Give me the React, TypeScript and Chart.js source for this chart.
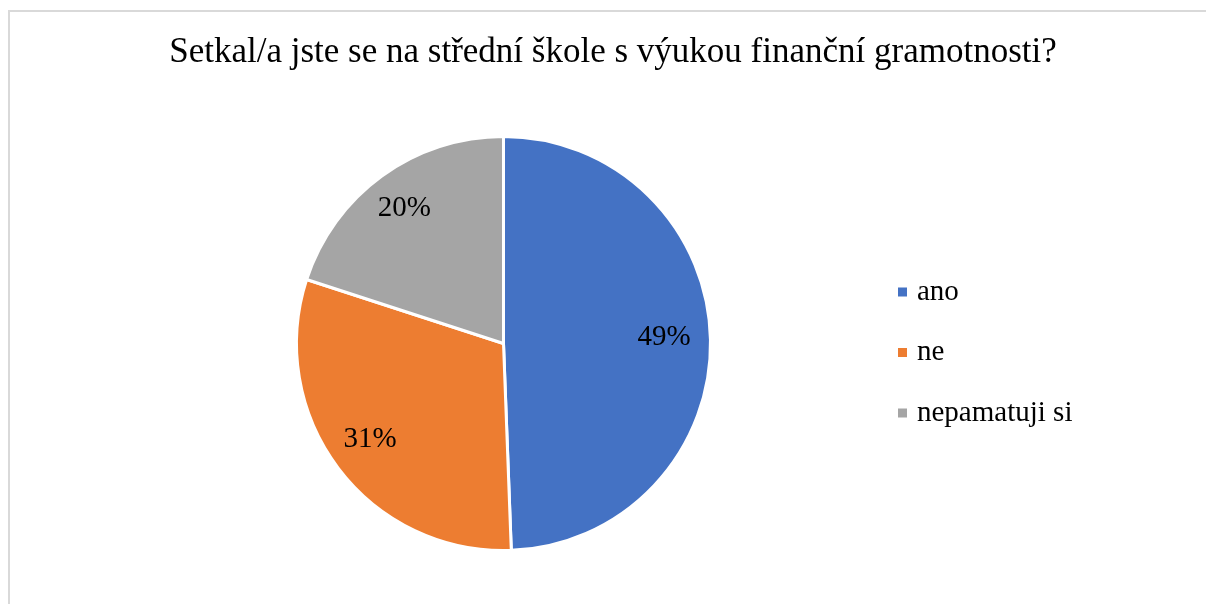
import React, { useEffect, useRef } from "react";
import { Chart, registerables } from "chart.js";

Chart.register(...registerables);

const title = "Setkal/a jste se na střední škole s výukou finanční gramotnosti?";
const categories = ["ano", "ne", "nepamatuji si"];
const shares = [49.4, 30.6, 20.0];
const colors = ["#4472C4", "#ED7D31", "#A5A5A5"];

const FONT = '"Liberation Serif", "Times New Roman", serif';

const overlayPlugin = {
  id: "overlay",
  afterDraw(chart: any) {
    const ctx = chart.ctx;
    ctx.save();
    ctx.fillStyle = "#000";
    // title
    ctx.font = `35px ${FONT}`;
    ctx.textAlign = "center";
    ctx.textBaseline = "alphabetic";
    ctx.fillText(title, 613, 62);

    // percentage labels
    const meta = chart.getDatasetMeta(0);
    const total = shares.reduce((a, b) => a + b, 0);
    ctx.font = `29px ${FONT}`;
    ctx.textAlign = "center";
    ctx.textBaseline = "middle";
    meta.data.forEach((arc: any, i: number) => {
      const { x, y, startAngle, endAngle, outerRadius } = arc.getProps(
        ["x", "y", "startAngle", "endAngle", "outerRadius"],
        true
      );
      const mid = (startAngle + endAngle) / 2;
      const r = outerRadius * 0.79;
      const pct = Math.round((shares[i] / total) * 100) + "%";
      ctx.fillText(pct, x + Math.cos(mid) * r - 3, y + Math.sin(mid) * r - 3);
    });

    // legend
    ctx.font = `29px ${FONT}`;
    ctx.textAlign = "left";
    ctx.textBaseline = "middle";
    categories.forEach((c, i) => {
      const cy = 292 + i * 60.5;
      ctx.fillStyle = colors[i];
      ctx.fillRect(898, cy - 4.5, 9, 9);
      ctx.fillStyle = "#000";
      ctx.fillText(c, 917, cy);
    });
    ctx.restore();
  },
};

export default function App() {
  const ref = useRef<HTMLCanvasElement | null>(null);
  useEffect(() => {
    if (!ref.current) return;
    const chart = new Chart(ref.current, {
      type: "pie",
      data: {
        labels: categories,
        datasets: [
          {
            data: shares,
            backgroundColor: colors,
            borderColor: "#ffffff",
            borderWidth: 3,
          },
        ],
      },
      options: {
        responsive: false,
        animation: false,
        devicePixelRatio: 1,
        layout: { padding: { left: 295, right: 494, top: 135, bottom: 52 } },
        plugins: {
          legend: { display: false },
          title: { display: false },
          tooltip: { enabled: false },
        },
      },
      plugins: [overlayPlugin],
    });
    return () => chart.destroy();
  }, []);
  return (
    <div style={{ position: "absolute", left: 0, top: 0, width: 1206, height: 604, background: "#fff", overflow: "hidden" }}>
      <div
        style={{
          position: "absolute",
          left: 8,
          top: 10,
          width: 1220,
          height: 620,
          border: "2px solid #d9d9d9",
        }}
      />
      <canvas
        ref={ref}
        width={1206}
        height={604}
        style={{ position: "absolute", left: 0, top: 0, width: 1206, height: 604 }}
      />
    </div>
  );
}
